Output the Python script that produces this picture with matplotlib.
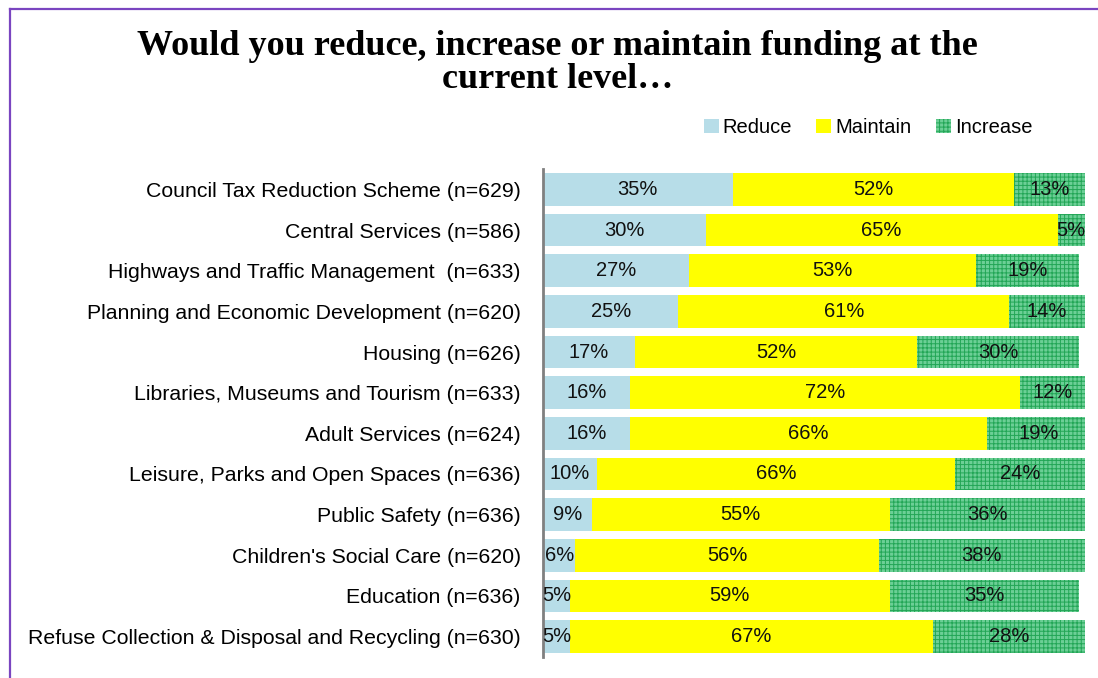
import numpy as np
import matplotlib
matplotlib.use('Agg')
import matplotlib.pyplot as plt
from matplotlib.lines import Line2D
from matplotlib.patches import Patch

plt.rcParams['font.family'] = ['Liberation Sans', 'DejaVu Sans']
plt.rcParams['hatch.linewidth'] = 0.7

services = ["Council Tax Reduction Scheme (n=629)",
            "Central Services (n=586)",
            "Highways and Traffic Management  (n=633)",
            "Planning and Economic Development (n=620)",
            "Housing (n=626)",
            "Libraries, Museums and Tourism (n=633)",
            "Adult Services (n=624)",
            "Leisure, Parks and Open Spaces (n=636)",
            "Public Safety (n=636)",
            "Children's Social Care (n=620)",
            "Education (n=636)",
            "Refuse Collection & Disposal and Recycling (n=630)"]
reduce_pct = [35, 30, 27, 25, 17, 16, 16, 10, 9, 6, 5, 5]
maintain_pct = [52, 65, 53, 61, 52, 72, 66, 66, 55, 56, 59, 67]
increase_pct = [13, 5, 19, 14, 30, 12, 19, 24, 36, 38, 35, 28]

fig = plt.figure(figsize=(10.98, 6.78), dpi=100)
ax = fig.add_axes([0.4945, 0.031, 0.4935, 0.7197])

y = np.arange(len(services))[::-1]
h = 0.8
r = np.array(reduce_pct)
m = np.array(maintain_pct)
inc = np.array(increase_pct)

b1 = ax.barh(y, r, height=h, color='#b7dde8', lw=0)
b2 = ax.barh(y, m, left=r, height=h, color='#ffff00', lw=0)
b3 = ax.barh(y, inc, left=r + m, height=h, facecolor='#6ccf96',
             edgecolor='#22a656', hatch='++++', lw=0)

for vals, lefts in [(r, np.zeros_like(r)), (m, r), (inc, r + m)]:
    for yy, v, l in zip(y, vals, lefts):
        ax.text(l + v / 2, yy, f"{v}%", ha='center', va='center',
                fontsize=14.5, color='#111111')

ax.set_xlim(0, 100)
ax.set_ylim(-0.5, len(services) - 0.5)
ax.set_yticks(y)
ax.set_yticklabels(services, fontsize=15.3)
ax.tick_params(axis='y', length=0, pad=16)
ax.set_xticks([])
for s in ['top', 'right', 'bottom']:
    ax.spines[s].set_visible(False)
ax.spines['left'].set_color('#808080')
ax.spines['left'].set_linewidth(2)

handles = [Patch(facecolor='#b7dde8', lw=0),
           Patch(facecolor='#ffff00', lw=0),
           Patch(facecolor='#6ccf96', edgecolor='#22a656', hatch='++++', lw=0)]
fig.legend(handles, ['Reduce', 'Maintain', 'Increase'], loc='center',
           bbox_to_anchor=(0.7905, 0.812), ncol=3, frameon=False,
           fontsize=14.5, handlelength=0.75, handleheight=0.75,
           handletextpad=0.2, columnspacing=1.2)

fig.text(0.508, 0.907, "Would you reduce, increase or maintain funding at the\ncurrent level\u2026",
         ha='center', va='center', fontsize=26, fontweight='bold',
         family=['Liberation Serif', 'DejaVu Serif'], linespacing=1.0)

# purple frame along the top and left edges
fig.add_artist(Line2D([10 / 1098, 10 / 1098], [0, 1 - 9 / 678],
                      transform=fig.transFigure, color='#7a45c0', lw=1.6))
fig.add_artist(Line2D([10 / 1098, 1], [1 - 9 / 678, 1 - 9 / 678],
                      transform=fig.transFigure, color='#7a45c0', lw=1.6))

fig.savefig('out.png', dpi=100)
